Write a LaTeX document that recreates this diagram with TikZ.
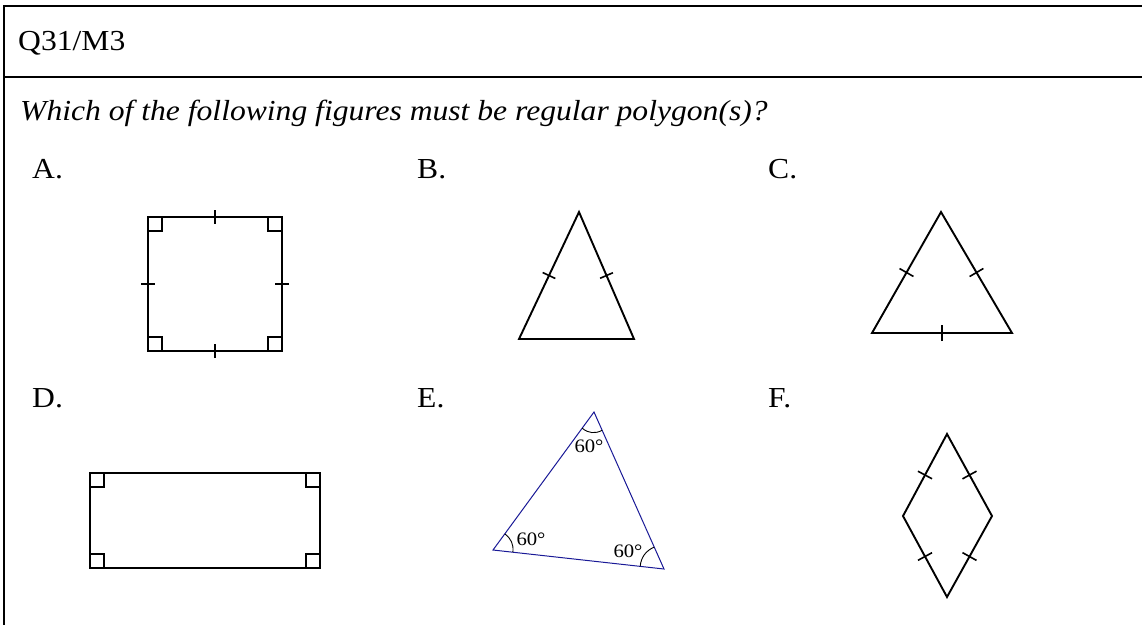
\documentclass[tikz,border=0pt]{standalone}
\usepackage{fontspec}
\setmainfont{Liberation Serif}[FakeStretch=1.09]
\usepackage{tikz}
\usetikzlibrary{calc}
\definecolor{navyline}{RGB}{25,25,150}

\begin{document}
\begin{tikzpicture}[
    x=1pt, y=-1pt,
    frame/.style={line width=2pt},
    outline/.style={line width=1.9pt, line join=miter},
    rtbox/.style={line width=1.4pt},
    tickln/.style={line width=1.6pt},
    angshape/.style={line width=1pt, draw=navyline},
    arcline/.style={line width=0.9pt},
    txt/.style={anchor=base west, inner sep=0pt, font=\fontsize{29}{33}\selectfont},
    deg/.style={inner sep=0pt, font=\fontsize{19}{21}\selectfont},
  ]
  \useasboundingbox (0,0) rectangle (1142,625);

  % rahmen
  \draw[frame] (1142,6) -- (4,6) -- (4,625);
  \draw[frame] (4,77) -- (1142,77);

  % texte
  \node[txt] (qid) at (18,50) {Q31/M3};
  \node[txt] (ask) at (20,120) {\itshape Which of the following figures must be regular polygon(s)?};
  \node[txt] (la) at (32,178) {A.};
  \node[txt] (lb) at (417,178) {B.};
  \node[txt] (lc) at (768,178) {C.};
  \node[txt] (ld) at (32,407) {D.};
  \node[txt] (le) at (417,407) {E.};
  \node[txt] (lf) at (768,407) {F.};

  % A: quadrat
  \coordinate (a1) at (148,217);
  \coordinate (a2) at (282,217);
  \coordinate (a3) at (282,351);
  \coordinate (a4) at (148,351);
  \draw[outline] (a1) -- (a2) -- (a3) -- (a4) -- cycle;
  \draw[rtbox] (a1) rectangle ++(14,14);
  \draw[rtbox] (a2) rectangle ++(-14,14);
  \draw[rtbox] (a3) rectangle ++(-14,-14);
  \draw[rtbox] (a4) rectangle ++(14,-14);
  \foreach \p/\q in {a1/a2, a2/a3, a3/a4, a4/a1}
    \draw[tickln] ($(\p)!0.5!(\q)!7pt!90:(\q)$) -- ($(\p)!0.5!(\q)!7pt!-90:(\q)$);

  % B: gleichschenklig
  \coordinate (b1) at (579,212);
  \coordinate (b2) at (634,339);
  \coordinate (b3) at (519,339);
  \draw[outline] (b1) -- (b2) -- (b3) -- cycle;
  \foreach \p/\q in {b1/b2, b3/b1}
    \draw[tickln] ($(\p)!0.5!(\q)!7pt!90:(\q)$) -- ($(\p)!0.5!(\q)!7pt!-90:(\q)$);

  % C: gleichseitig
  \coordinate (c1) at (941,212);
  \coordinate (c2) at (1012,333);
  \coordinate (c3) at (872,333);
  \draw[outline] (c1) -- (c2) -- (c3) -- cycle;
  \foreach \p/\q in {c1/c2, c2/c3, c3/c1}
    \draw[tickln] ($(\p)!0.5!(\q)!8pt!90:(\q)$) -- ($(\p)!0.5!(\q)!8pt!-90:(\q)$);

  % D: rechteck
  \coordinate (d1) at (90,473);
  \coordinate (d2) at (320,473);
  \coordinate (d3) at (320,568);
  \coordinate (d4) at (90,568);
  \draw[outline] (d1) -- (d2) -- (d3) -- (d4) -- cycle;
  \draw[rtbox] (d1) rectangle ++(14,14);
  \draw[rtbox] (d2) rectangle ++(-14,14);
  \draw[rtbox] (d3) rectangle ++(-14,-14);
  \draw[rtbox] (d4) rectangle ++(14,-14);

  % E: winkel 60
  \coordinate (e1) at (594,412);
  \coordinate (e2) at (664,569);
  \coordinate (e3) at (493,550);
  \draw[angshape] (e1) -- (e2) -- (e3) -- cycle;
  \draw[arcline] ($(e1)!20pt!(e3)$) to[bend right=35] ($(e1)!20pt!(e2)$);
  \draw[arcline] ($(e3)!20pt!(e1)$) to[bend left=30] ($(e3)!20pt!(e2)$);
  \draw[arcline] ($(e2)!24pt!(e1)$) to[bend right=30] ($(e2)!24pt!(e3)$);
  \node[deg] (w1) at (589,446) {60°};
  \node[deg] (w2) at (531,539) {60°};
  \node[deg] (w3) at (628,551) {60°};

  % F: raute
  \coordinate (f1) at (947,434);
  \coordinate (f2) at (992,516);
  \coordinate (f3) at (947,597);
  \coordinate (f4) at (903,516);
  \draw[outline] (f1) -- (f2) -- (f3) -- (f4) -- cycle;
  \foreach \p/\q in {f1/f2, f2/f3, f3/f4, f4/f1}
    \draw[tickln] ($(\p)!0.5!(\q)!8pt!90:(\q)$) -- ($(\p)!0.5!(\q)!8pt!-90:(\q)$);
\end{tikzpicture}
\end{document}
